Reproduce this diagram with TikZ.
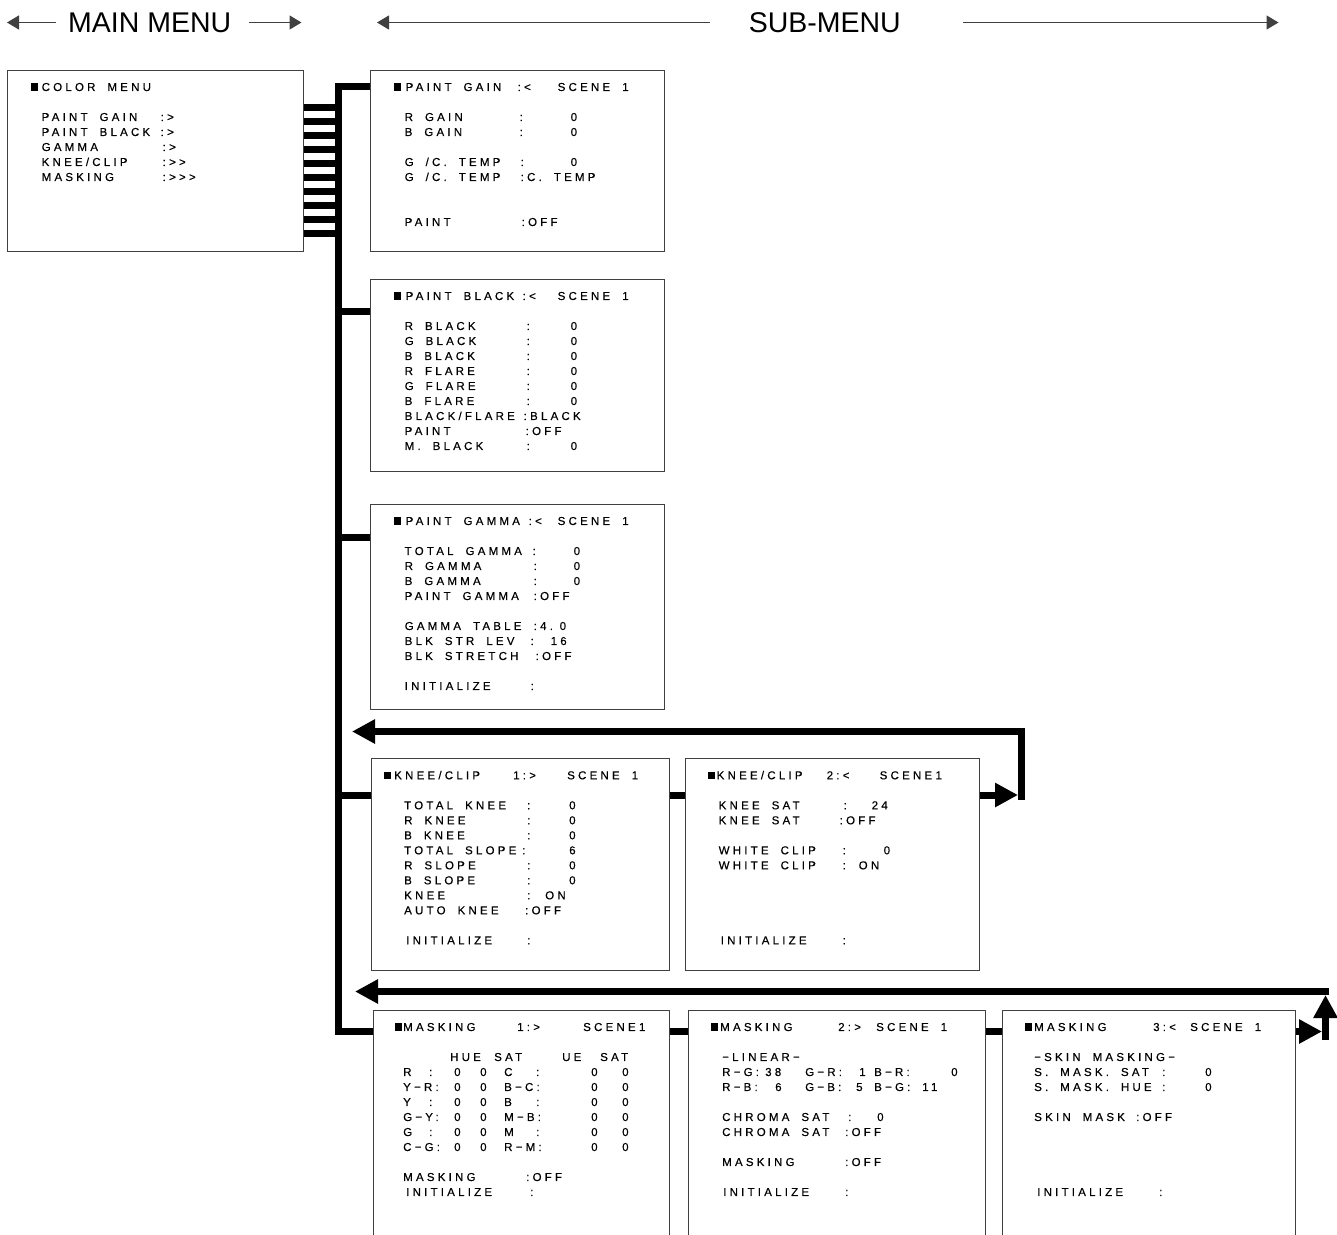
\documentclass[tikz,border=0pt]{standalone}
\usepackage{fontspec}
\setmainfont{Liberation Sans}
\newfontfamily\scrfont[LetterSpace=28,FakeBold=0.4]{Liberation Sans}
\usetikzlibrary{arrows.meta,positioning}

% on-screen menu text: tracked sans, fixed line pitch
\newcommand\scrtext{\fontsize{11.5pt}{15pt}\scrfont\fontdimen2\font=12pt\fontdimen3\font=0pt\fontdimen4\font=0pt\frenchspacing}
\newcommand\at[2]{\rlap{\hspace*{#1pt}#2}}
\newcommand\sq{\rule{7pt}{7.5pt}}
\newcommand\firstln{\rule{0pt}{8pt}}

\begin{document}
\begin{tikzpicture}[x=1pt,y=-1pt,
  scr/.style={draw=black!75,line width=1pt,inner sep=0pt,anchor=north west},
  scrtxt/.style={font=\scrtext,align=left,inner sep=0pt,anchor=north west},
  bus/.style={line width=7pt},
  busar/.style={bus,-{Triangle[length=23pt,width=23pt]}},
  hdr/.style={font=\fontsize{28.5pt}{30pt}\selectfont,inner sep=0pt},
  hdrar/.style={line width=1.2pt,black!75,-{Triangle[length=12pt,width=14pt]}}]
\useasboundingbox (0,0) rectangle (1337,1234);

% header
\node[hdr] (mainhd) at (149.75,22.5) {MAIN MENU};
\node[hdr] (subhd) at (824.75,22.5) {SUB-MENU};
\coordinate (mainl) at (7,22.5);
\coordinate (mainr) at (301.5,22.5);
\coordinate (subl) at (377,22.5);
\coordinate (subr) at (1278.5,22.5);
\draw[hdrar] ([xshift=-12.5pt]mainhd.west) -- (mainl);
\draw[hdrar] ([xshift=17.5pt]mainhd.east) -- (mainr);
\draw[hdrar] ([xshift=-38.5pt]subhd.west) -- (subl);
\draw[hdrar] ([xshift=62.5pt]subhd.east) -- (subr);

% screens
\node[scr,minimum width=296pt,minimum height=181pt] (menu) at (7,70) {};
\node[scr,minimum width=293.5pt,minimum height=181pt] (gain) at (370,70) {};
\node[scr,minimum width=293.5pt,minimum height=192pt,below=27pt of gain] (black) {};
\node[scr,minimum width=293.5pt,minimum height=204.5pt,below=32pt of black] (gamma) {};
\node[scr,minimum width=298.5pt,minimum height=212pt] (knee1) at (370.5,758) {};
\node[scr,minimum width=293.5pt,minimum height=212pt,right=15pt of knee1] (knee2) {};
\node[scr,minimum width=296pt,minimum height=240pt] (mask1) at (372.5,1010) {};
\node[scr,minimum width=297pt,minimum height=240pt,right=18pt of mask1] (mask2) {};
\node[scr,minimum width=293.5pt,minimum height=240pt,right=16pt of mask2] (mask3) {};

% screen texts
\node[scrtxt] (menutxt) at ([yshift=-12.75pt]menu.north west) {\firstln\at{23}{\sq}\at{34}{COLOR MENU}\\[15pt]
  \at{34}{PAINT GAIN}\at{153}{:>}\\
  \at{34}{PAINT BLACK}\at{153}{:>}\\
  \at{34}{GAMMA}\at{155}{:>}\\
  \at{34}{KNEE/CLIP}\at{155}{:>>}\\
  \at{34}{MASKING}\at{155}{:>>>}};

\node[scrtxt] (gaintxt) at ([yshift=-12.75pt]gain.north west) {\firstln\at{23}{\sq}\at{35}{PAINT GAIN}\at{147}{:<}\at{187}{SCENE 1}\\[15pt]
  \at{34}{R GAIN}\at{149}{:}\at{200}{0}\\
  \at{34}{B GAIN}\at{149}{:}\at{200}{0}\\[15pt]
  \at{34}{G /C. TEMP}\at{150}{:}\at{200}{0}\\
  \at{34}{G /C. TEMP}\at{150}{:C. TEMP}\\[30pt]
  \at{34}{PAINT}\at{151}{:OFF}};

\node[scrtxt] (blacktxt) at ([yshift=-12.75pt]black.north west) {\firstln\at{23}{\sq}\at{35}{PAINT BLACK}\at{152}{:<}\at{187}{SCENE 1}\\[15pt]
  \at{34}{R BLACK}\at{156}{:}\at{200}{0}\\
  \at{34}{G BLACK}\at{156}{:}\at{200}{0}\\
  \at{34}{B BLACK}\at{156}{:}\at{200}{0}\\
  \at{34}{R FLARE}\at{156}{:}\at{200}{0}\\
  \at{34}{G FLARE}\at{156}{:}\at{200}{0}\\
  \at{34}{B FLARE}\at{156}{:}\at{200}{0}\\
  \at{34}{BLACK/FLARE}\at{153}{:BLACK}\\
  \at{34}{PAINT}\at{155}{:OFF}\\
  \at{34}{M. BLACK}\at{156}{:}\at{200}{0}};

\node[scrtxt] (gammatxt) at ([yshift=-12.75pt]gamma.north west) {\firstln\at{23}{\sq}\at{35}{PAINT GAMMA}\at{158}{:<}\at{187}{SCENE 1}\\[15pt]
  \at{34}{TOTAL GAMMA}\at{162}{:}\at{203}{0}\\
  \at{34}{R GAMMA}\at{163}{:}\at{203}{0}\\
  \at{34}{B GAMMA}\at{163}{:}\at{203}{0}\\
  \at{34}{PAINT GAMMA}\at{163}{:OFF}\\[15pt]
  \at{34}{GAMMA TABLE}\at{163}{:4.}\at{189}{0}\\
  \at{34}{BLK STR LEV}\at{160}{:}\at{180}{16}\\
  \at{34}{BLK STRETCH}\at{165}{:OFF}\\[15pt]
  \at{34}{INITIALIZE}\at{160}{:}};

\node[scrtxt] (knee1txt) at ([yshift=-12.75pt]knee1.north west) {\firstln\at{13}{\sq}\at{23}{KNEE/CLIP}\at{142}{1:>}\at{196}{SCENE 1}\\[15pt]
  \at{33}{TOTAL KNEE}\at{156}{:}\at{198}{0}\\
  \at{33}{R KNEE}\at{156}{:}\at{198}{0}\\
  \at{33}{B KNEE}\at{156}{:}\at{198}{0}\\
  \at{33}{TOTAL SLOPE}\at{151}{:}\at{198}{6}\\
  \at{33}{R SLOPE}\at{156}{:}\at{198}{0}\\
  \at{33}{B SLOPE}\at{156}{:}\at{198}{0}\\
  \at{33}{KNEE}\at{156}{:}\at{174}{ON}\\
  \at{33}{AUTO KNEE}\at{154}{:OFF}\\[15pt]
  \at{35}{INITIALIZE}\at{156}{:}};

\node[scrtxt] (knee2txt) at ([yshift=-12.75pt]knee2.north west) {\firstln\at{22}{\sq}\at{31}{KNEE/CLIP}\at{141}{2:<}\at{194}{SCENE1}\\[15pt]
  \at{33}{KNEE SAT}\at{158}{:}\at{186}{24}\\
  \at{33}{KNEE SAT}\at{154}{:OFF}\\[15pt]
  \at{33}{WHITE CLIP}\at{157}{:}\at{198}{0}\\
  \at{33}{WHITE CLIP}\at{157}{:}\at{173}{ON}\\[60pt]
  \at{35}{INITIALIZE}\at{157}{:}};

\node[scrtxt] (mask1txt) at ([yshift=-12.75pt]mask1.north west) {\firstln\at{22}{\sq}\at{30}{MASKING}\at{144}{1:>}\at{210}{SCENE1}\\[15pt]
  \at{77}{HUE}\at{121}{SAT}\at{189}{UE}\at{227}{SAT}\\
  \at{30}{R}\at{56}{:}\at{81}{0}\at{107}{0}\at{131}{C}\at{163}{:}\at{218}{0}\at{249}{0}\\
  \at{30}{Y−R:}\at{81}{0}\at{107}{0}\at{131}{B−C:}\at{218}{0}\at{249}{0}\\
  \at{30}{Y}\at{56}{:}\at{81}{0}\at{107}{0}\at{131}{B}\at{163}{:}\at{218}{0}\at{249}{0}\\
  \at{30}{G−Y:}\at{81}{0}\at{107}{0}\at{131}{M−B:}\at{218}{0}\at{249}{0}\\
  \at{30}{G}\at{56}{:}\at{81}{0}\at{107}{0}\at{131}{M}\at{163}{:}\at{218}{0}\at{249}{0}\\
  \at{30}{C−G:}\at{81}{0}\at{107}{0}\at{131}{R−M:}\at{218}{0}\at{249}{0}\\[15pt]
  \at{30}{MASKING}\at{153}{:OFF}\\
  \at{33}{INITIALIZE}\at{157}{:}};

\node[scrtxt] (mask2txt) at ([yshift=-12.75pt]mask2.north west) {\firstln\at{23}{\sq}\at{32}{MASKING}\at{150}{2:>}\at{188}{SCENE 1}\\[15pt]
  \at{34}{−LINEAR−}\\
  \at{34}{R−G:}\at{77}{38}\at{117}{G−R:}\at{171}{1}\at{186}{B−R:}\at{263}{0}\\
  \at{34}{R−B:}\at{87}{6}\at{117}{G−B:}\at{168}{5}\at{186}{B−G:}\at{234}{11}\\[15pt]
  \at{34}{CHROMA SAT}\at{160}{:}\at{189}{0}\\
  \at{34}{CHROMA SAT}\at{157}{:OFF}\\[15pt]
  \at{34}{MASKING}\at{157}{:OFF}\\[15pt]
  \at{35}{INITIALIZE}\at{157}{:}};

\node[scrtxt] (mask3txt) at ([yshift=-12.75pt]mask3.north west) {\firstln\at{23}{\sq}\at{32}{MASKING}\at{151}{3:<}\at{188}{SCENE 1}\\[15pt]
  \at{32}{−SKIN MASKING−}\\
  \at{32}{S. MASK. SAT}\at{160}{:}\at{203}{0}\\
  \at{32}{S. MASK. HUE}\at{160}{:}\at{203}{0}\\[15pt]
  \at{32}{SKIN MASK}\at{134}{:OFF}\\[60pt]
  \at{35}{INITIALIZE}\at{157}{:}};

% bus from the main menu
\coordinate (bt) at (338.5,86);
\coordinate (bb) at (338.5,1031.5);
\foreach \i in {0,...,9}{
  \path ([yshift=-(37+14*\i)*1pt]menu.north east) coordinate (c);
  \draw[bus] (c) -- (c -| bt);
}
\draw[bus] (bt -| gain.west) -- (bt) -- (bb) -- (bb -| mask1.west);
\foreach \n/\d in {black/32.5,gamma/33,knee1/37.5}{
  \path ([yshift=-\d pt]\n.north west) coordinate (tap);
  \draw[bus] (tap) -- (tap -| bt);
}

% knee/clip pages
\path ([yshift=-37.5pt]knee1.north east) coordinate (k1);
\path ([yshift=-37pt]knee2.north east) coordinate (k2);
\coordinate (kc) at (1021.5,800);
\coordinate (kret) at (352,731.5);
\draw[bus] (k1) -- (k1 -| knee2.west);
\draw[busar,shorten >=3.5pt] (k2) -- (k2 -| kc);
\draw[busar] (kc) |- (kret);

% masking pages
\path ([yshift=-21.5pt]mask1.north east) coordinate (m1);
\path ([yshift=-21.5pt]mask2.north east) coordinate (m2);
\path ([yshift=-21.5pt]mask3.north east) coordinate (m3);
\coordinate (mc) at (1325.5,1040);
\coordinate (mtop) at (1325.5,995);
\coordinate (mtr) at (1329,991.5);
\coordinate (mret) at (355,991.5);
\draw[bus] (m1) -- (m1 -| mask2.west);
\draw[bus] (m2) -- (m2 -| mask3.west);
\draw[busar,shorten >=3.5pt] (m3) -- (m3 -| mc);
\draw[busar] (mc) -- (mtop);
\draw[busar] (mtr) -- (mret);
\end{tikzpicture}
\end{document}
